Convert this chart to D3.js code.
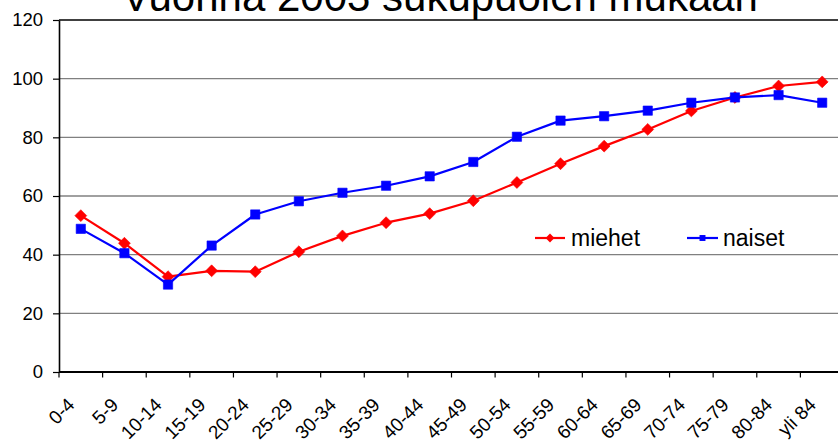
<!DOCTYPE html>
<html>
<head>
<meta charset="utf-8">
<script src="https://cdn.jsdelivr.net/npm/d3@7"></script>
<style>
  html, body { margin: 0; padding: 0; background: #fff; }
  svg { display: block; font-family: Arial, "Liberation Sans", sans-serif; }
</style>
</head>
<body>
<svg id="chart" width="838" height="443"></svg>
<script>
// Age groups
const ageGroups = ["0-4", "5-9", "10-14", "15-19", "20-24", "25-29", "30-34", "35-39",
  "40-44", "45-49", "50-54", "55-59", "60-64", "65-69", "70-74", "75-79", "80-84", "yli 84"];

// Values per age group
const miehet = [53.3, 43.9, 32.5, 34.5, 34.2, 41.0, 46.4, 50.9, 54.0, 58.4, 64.6, 71.0,
  77.0, 82.7, 89.0, 93.6, 97.5, 98.9];
const naiset = [48.8, 40.5, 29.8, 43.1, 53.7, 58.2, 61.1, 63.5, 66.7, 71.6, 80.2, 85.7,
  87.2, 89.1, 91.8, 93.6, 94.4, 91.8];

const yTicks = [0, 20, 40, 60, 80, 100, 120];
const titleText = "Vuonna 2003 sukupuolen mukaan";

const series = [
  { name: "miehet", values: miehet, color: "#ff0000", symbol: d3.symbolDiamond2 },
  { name: "naiset", values: naiset, color: "#0000ff", symbol: d3.symbolSquare2 }
];

const svg = d3.select("#chart");
const plot = { left: 59, right: 844, top: 20, bottom: 372 };

const x = d3.scalePoint().domain(ageGroups).range([plot.left, plot.right]).padding(0.5);
const y = d3.scaleLinear().domain([0, 120]).range([plot.bottom, plot.top]);

// Title (runs off the top edge)
svg.append("text")
  .attr("x", 440).attr("y", 11)
  .attr("text-anchor", "middle")
  .attr("font-size", 42)
  .attr("fill", "#000")
  .text(titleText);

// Horizontal gridlines
svg.append("g")
  .selectAll("line")
  .data(yTicks.filter(t => t > 0 && t < 120))
  .join("line")
  .attr("x1", plot.left).attr("x2", plot.right)
  .attr("y1", d => y(d)).attr("y2", d => y(d))
  .attr("stroke", "#808080").attr("stroke-width", 1.4);

// Top border of plot area
svg.append("line")
  .attr("x1", plot.left).attr("x2", plot.right)
  .attr("y1", y(120)).attr("y2", y(120))
  .attr("stroke", "#000").attr("stroke-width", 1.4);

// Y axis
const yAxis = svg.append("g")
  .attr("transform", `translate(${plot.left},0)`)
  .call(d3.axisLeft(y).tickValues(yTicks).tickSize(6).tickPadding(10).tickSizeOuter(0));
yAxis.select(".domain").attr("stroke", "#000").attr("stroke-width", 1.6);
yAxis.selectAll(".tick line").attr("stroke", "#000").attr("stroke-width", 1.2);
yAxis.selectAll(".tick text")
  .attr("font-size", 18.5)
  .attr("font-family", "Arial, 'Liberation Sans', sans-serif")
  .attr("fill", "#000");

// X axis: ticks at category boundaries
const step = x.step();
const boundaries = d3.range(ageGroups.length + 1).map(i => plot.left + i * step);
const xg = svg.append("g");
xg.append("line")
  .attr("x1", plot.left).attr("x2", plot.right)
  .attr("y1", plot.bottom).attr("y2", plot.bottom)
  .attr("stroke", "#000").attr("stroke-width", 2);
xg.selectAll("line.tick")
  .data(boundaries)
  .join("line")
  .attr("class", "tick")
  .attr("x1", d => d).attr("x2", d => d)
  .attr("y1", plot.bottom).attr("y2", plot.bottom + 5.5)
  .attr("stroke", "#000").attr("stroke-width", 1.2);

// Rotated category labels
xg.selectAll("text")
  .data(ageGroups)
  .join("text")
  .attr("transform", d => `translate(${x(d) - 5},${plot.bottom + 34}) rotate(-45)`)
  .attr("text-anchor", "end")
  .attr("font-size", 19)
  .attr("fill", "#000")
  .text(d => d);

// Series lines and markers
const line = d3.line()
  .x((d, i) => x(ageGroups[i]))
  .y(d => y(d));

series.forEach(s => {
  const g = svg.append("g");
  g.append("path")
    .datum(s.values)
    .attr("d", line)
    .attr("fill", "none")
    .attr("stroke", s.color)
    .attr("stroke-width", 2.2)
    .attr("stroke-linejoin", "round");
  g.selectAll("path.marker")
    .data(s.values)
    .join("path")
    .attr("class", "marker")
    .attr("transform", (d, i) => `translate(${x(ageGroups[i])},${y(d)})`)
    .attr("d", d3.symbol().type(s.symbol).size(s.name === "miehet" ? 90 : 110))
    .attr("fill", s.color)
    .attr("stroke", s.color)
    .attr("stroke-width", 0.6);
});

// Legend
const legendItems = [
  { s: series[0], x0: 535, x1: 565, tx: 571 },
  { s: series[1], x0: 687, x1: 718, tx: 723 }
];
const legendY = 238;
legendItems.forEach(li => {
  const g = svg.append("g");
  g.append("line")
    .attr("x1", li.x0).attr("x2", li.x1)
    .attr("y1", legendY).attr("y2", legendY)
    .attr("stroke", li.s.color).attr("stroke-width", 2.2);
  g.append("path")
    .attr("transform", `translate(${(li.x0 + li.x1) / 2},${legendY})`)
    .attr("d", d3.symbol().type(li.s.symbol).size(li.s.name === "miehet" ? 50 : 45))
    .attr("fill", li.s.color);
  g.append("text")
    .attr("x", li.tx).attr("y", legendY + 8)
    .attr("font-size", 23)
    .attr("fill", "#000")
    .text(li.s.name);
});
</script>
</body>
</html>
